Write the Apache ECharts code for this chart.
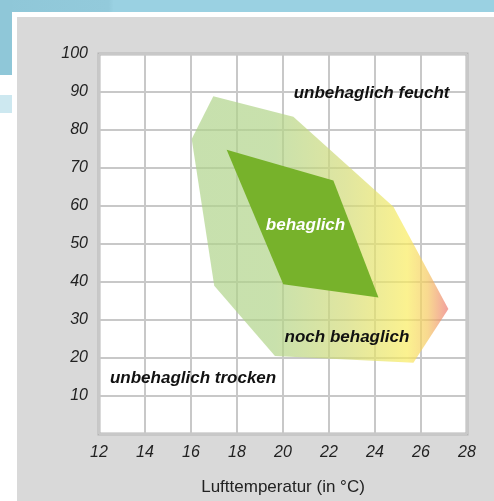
<!DOCTYPE html>
<html>
<head>
<meta charset="utf-8">
<script src="https://cdn.jsdelivr.net/npm/echarts@6/dist/echarts.min.js"></script>
<style>
html,body{margin:0;padding:0;background:#fff;}
#wrap{position:relative;width:494px;height:501px;overflow:hidden;background:#fff;}
.deco{position:absolute;}
#chart{position:absolute;left:0;top:0;width:494px;height:501px;}
</style>
</head>
<body>
<div id="wrap">
  <div class="deco" style="left:0;top:0;width:494px;height:12px;background:linear-gradient(90deg,#8fc7d8 0%,#93cadb 22%,#9ad1e2 23%,#9ad1e2 100%);"></div>
  <div class="deco" style="left:0;top:0;width:12px;height:75px;background:#8fc7d8;"></div>
  <div class="deco" style="left:0;top:95px;width:12px;height:18px;background:#cde8f0;"></div>
  <div class="deco" style="left:17px;top:17px;width:477px;height:484px;background:#d9d9d9;"></div>
  <div id="chart"></div>
</div>
<script>
// Axis ticks
const xTicks = [12, 14, 16, 18, 20, 22, 24, 26, 28];
const yTicks = [0, 10, 20, 30, 40, 50, 60, 70, 80, 90, 100];

// Zones: [temperature °C, relative humidity %]
const noch_behaglich_zone = [
  [16.97, 88.9], [20.45, 83.5], [24.8, 59.8], [27.19, 32.9],
  [25.67, 18.75], [19.65, 20.5], [17.01, 39.0], [16.03, 77.6]
];
const behaglich_zone = [
  [17.55, 74.8], [22.19, 66.7], [24.15, 35.9], [20.01, 39.4]
];

// Region labels: [x, y, text]
const regionLabels = [
  [23.85, 89.6, 'unbehaglich feucht'],
  [22.78, 25.5, 'noch behaglich'],
  [16.09, 14.7, 'unbehaglich trocken']
];
const innerLabel = [20.98, 55.0, 'behaglich'];

const FONT = "'Liberation Sans', Arial, Helvetica, sans-serif";

const chart = echarts.init(document.getElementById('chart'), null, {renderer: 'canvas'});

function polygonRenderer(points, styleFn) {
  return function (params, api) {
    const pts = points.map(p => api.coord(p));
    return {type: 'polygon', shape: {points: pts}, style: styleFn()};
  };
}

const option = {
  backgroundColor: 'transparent',
  animation: false,
  grid: {
    left: 99, top: 54, width: 368, height: 384,
    show: true, backgroundColor: '#ffffff',
    borderColor: '#b5b5b5', borderWidth: 3
  },
  xAxis: {
    type: 'value', min: xTicks[0], max: xTicks[xTicks.length - 1], interval: 2,
    name: 'Lufttemperatur (in °C)', nameLocation: 'middle', nameGap: 45,
    nameTextStyle: {fontFamily: FONT, fontSize: 17, color: '#222'},
    axisLine: {show: false}, axisTick: {show: false},
    axisLabel: {fontFamily: FONT, fontSize: 16, fontStyle: 'italic', color: '#222', margin: 11},
    splitLine: {show: true, lineStyle: {color: '#c8c8c8', width: 2}}
  },
  yAxis: {
    type: 'value', min: yTicks[0], max: yTicks[yTicks.length - 1], interval: 10,
    axisLine: {show: false}, axisTick: {show: false},
    axisLabel: {fontFamily: FONT, fontSize: 16, fontStyle: 'italic', color: '#222', margin: 11,
      formatter: v => (v === 0 ? '' : String(v))},
    splitLine: {show: true, lineStyle: {color: '#c8c8c8', width: 2}}
  },
  series: [
    {
      type: 'custom', data: [[0, 0]], silent: true, z: 2,
      renderItem: polygonRenderer(noch_behaglich_zone, () => ({
        fill: new echarts.graphic.LinearGradient(0, 0, 1, 0, [
          {offset: 0, color: '#afd38b'},
          {offset: 0.32, color: '#b1d489'},
          {offset: 0.6, color: '#d3db77'},
          {offset: 0.84, color: '#f9ec60'},
          {offset: 0.92, color: '#f5c860'},
          {offset: 1, color: '#ec7775'}
        ]),
        opacity: 0.7
      }))
    },
    {
      type: 'custom', data: [[0, 0]], silent: true, z: 3,
      renderItem: polygonRenderer(behaglich_zone, () => ({fill: '#77b22b'}))
    },
    {
      type: 'scatter', z: 5, symbolSize: 0, silent: true,
      itemStyle: {opacity: 1},
      data: regionLabels.map(d => ({value: [d[0], d[1]], name: d[2]})),
      label: {show: true, position: 'inside', formatter: p => p.name,
        fontFamily: FONT, fontSize: 17, fontWeight: 'bold', fontStyle: 'italic', color: '#111111'}
    },
    {
      type: 'scatter', z: 5, symbolSize: 0, silent: true,
      itemStyle: {opacity: 1},
      data: [{value: [innerLabel[0], innerLabel[1]], name: innerLabel[2]}],
      label: {show: true, position: 'inside', formatter: p => p.name,
        fontFamily: FONT, fontSize: 17, fontWeight: 'bold', fontStyle: 'italic', color: '#ffffff'}
    }
  ]
};
chart.setOption(option);
</script>
</body>
</html>
